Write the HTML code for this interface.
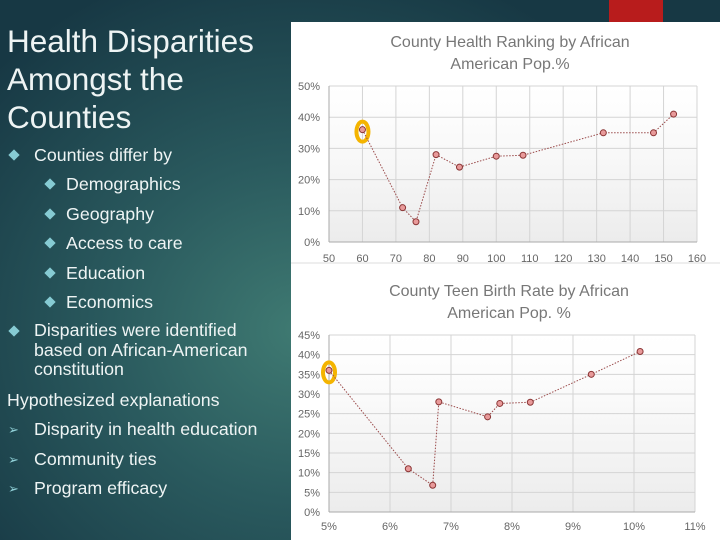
<!DOCTYPE html>
<html><head><meta charset="utf-8"><style>
body{margin:0;width:720px;height:540px;overflow:hidden;font-family:"Liberation Sans",sans-serif;}
#bg{position:absolute;left:0;top:0;width:720px;height:540px;background:radial-gradient(ellipse 420px 380px at 300px 330px,#3f7a72 0%,#2a5a5e 45%,#173844 100%);}
.t{position:absolute;color:#eef4f4;white-space:nowrap;}
.b{font-size:17.8px;}
.d{position:absolute;width:8px;height:8px;background:#86cbd3;transform:rotate(45deg);}
.a{position:absolute;color:#8fcfd6;font-size:13px;}
</style></head><body>
<div id="bg"></div>
<div class="t" style="left:7px;top:22px;font-size:31.5px;line-height:38px;">Health Disparities<br>Amongst the<br>Counties</div>
<div class="d" style="left:10px;top:151px"></div>
<div class="t b" style="left:34px;top:145px">Counties differ by</div>
<div class="d" style="left:46px;top:180px"></div>
<div class="t b" style="left:66px;top:174px">Demographics</div>
<div class="d" style="left:46px;top:210px"></div>
<div class="t b" style="left:66px;top:204px">Geography</div>
<div class="d" style="left:46px;top:239px"></div>
<div class="t b" style="left:66px;top:233px">Access to care</div>
<div class="d" style="left:46px;top:269px"></div>
<div class="t b" style="left:66px;top:263px">Education</div>
<div class="d" style="left:46px;top:298px"></div>
<div class="t b" style="left:66px;top:292px">Economics</div>
<div class="d" style="left:10px;top:327px"></div>
<div class="t b" style="left:34px;top:321px;line-height:19.5px">Disparities were identified<br>based on African-American<br>constitution</div>
<div class="t b" style="left:7px;top:390px">Hypothesized explanations</div>
<div class="a" style="left:8px;top:422px">➢</div>
<div class="t b" style="left:34px;top:419px">Disparity in health education</div>
<div class="a" style="left:8px;top:452px">➢</div>
<div class="t b" style="left:34px;top:449px">Community ties</div>
<div class="a" style="left:8px;top:481px">➢</div>
<div class="t b" style="left:34px;top:478px">Program efficacy</div>
<div style="position:absolute;left:609px;top:0;width:54px;height:23px;background:#b81c1c"></div>
<svg id="svg" style="position:absolute;left:0;top:0" width="720" height="540">
<defs><linearGradient id="g" x1="0" y1="0" x2="0" y2="1"><stop offset="0" stop-color="#fff"/><stop offset="0.35" stop-color="#fafafa"/><stop offset="1" stop-color="#ececec"/></linearGradient></defs>
<rect x="291" y="22" width="429" height="518" fill="#fff"/>
<line x1="291" y1="263" x2="720" y2="263" stroke="#ddd"/>
</svg>
<script>
const c1X=[60,72,76,82,89,100,108,132,147,153];
const c1Y=[36,11,6.5,28,24,27.5,27.8,35,35,41];
const c1XTicks=[50,60,70,80,90,100,110,120,130,140,150,160];
const c1YTicks=[0,10,20,30,40,50];
const c2X=[5.0,6.3,6.7,6.8,7.6,7.8,8.3,9.3,10.1];
const c2Y=[36,11,6.8,28,24.2,27.6,27.9,35,40.8];
const c2XTicks=[5,6,7,8,9,10,11];
const c2YTicks=[0,5,10,15,20,25,30,35,40,45];
const svg=document.getElementById('svg');
const NS='http://www.w3.org/2000/svg';
function mk(tag,attrs,parent){const e=document.createElementNS(NS,tag);for(const k in attrs)e.setAttribute(k,attrs[k]);(parent||svg).appendChild(e);return e;}
function chart(o){
 const sx=v=>o.l+(v-o.x0)/(o.x1-o.x0)*(o.r-o.l);
 const sy=v=>o.b-(v-o.y0)/(o.y1-o.y0)*(o.b-o.t);
 const bg=mk('rect',{x:o.l,y:o.t,width:o.r-o.l,height:o.b-o.t,fill:'url(#g)'});
 
 
 const title=mk('text',{x:(o.l+o.r)/2-3,y:o.ty,'text-anchor':'middle','font-size':16,fill:'#777'});
 
 
 o.title.forEach((s,i)=>{const ts=mk('tspan',{x:(o.l+o.r)/2-3,dy:i?22:0},title);ts.textContent=s;});
 o.yt.forEach(v=>{
  mk('line',{x1:o.l,x2:o.r,y1:sy(v),y2:sy(v),stroke:'#d4d4d4'});
  const t=mk('text',{x:o.l-9,y:sy(v)+4,'text-anchor':'end','font-size':11,fill:'#666'});
  
  
  t.textContent=v+'%';
 });
 o.xt.forEach(v=>{
  mk('line',{x1:sx(v),x2:sx(v),y1:o.t,y2:o.b,stroke:'#d4d4d4'});
  const t=mk('text',{x:sx(v),y:o.b+o.lab,'text-anchor':'middle','font-size':11,fill:'#666'});
  
  
  t.textContent=v+o.xs;
 });
 mk('line',{x1:o.l,x2:o.r,y1:o.b,y2:o.b,stroke:'#aaa'});
 mk('line',{x1:o.l,x2:o.l,y1:o.t,y2:o.b,stroke:'#aaa'});
 const hl=mk('ellipse',{cx:sx(o.xs_[0]),cy:sy(o.ys_[0])+2,rx:6,ry:10,fill:'none',stroke:'#f4b400','stroke-width':4});
 
 
 const line=mk('polyline',{points:o.xs_.map((x,i)=>sx(x)+','+sy(o.ys_[i])).join(' '),fill:'none',stroke:'#9a4a4a','stroke-width':1,'stroke-dasharray':'1.5,1.5'});
 
 
 o.xs_.forEach((x,i)=>{
  const p=mk('circle',{cx:sx(x),cy:sy(o.ys_[i]),r:3,fill:'#e89a9a',stroke:'#8a3535','stroke-width':1});
  
  
 });
}
chart({name:'health-ranking',l:329,r:697,t:86,b:242,x0:50,x1:160,y0:0,y1:50,xt:c1XTicks,yt:c1YTicks,xs:'',xs_:c1X,ys_:c1Y,lab:20,ty:47,title:['County Health Ranking by African','American Pop.%']});
chart({name:'teen-birth',l:329,r:695,t:335,b:512,x0:5,x1:11,y0:0,y1:45,xt:c2XTicks,yt:c2YTicks,xs:'%',xs_:c2X,ys_:c2Y,lab:18,ty:296,title:['County Teen Birth Rate by African','American Pop. %']});
</script>
</body></html>
